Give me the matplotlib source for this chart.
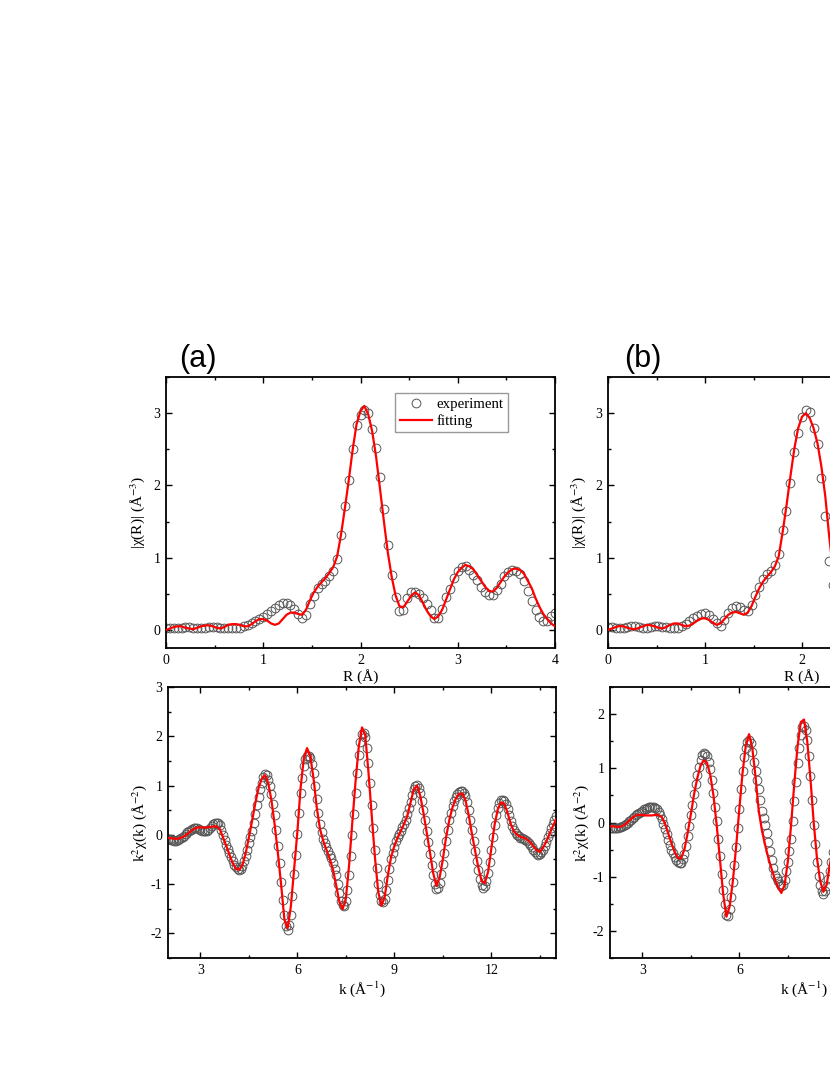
# EXAFS fits: |chi(R)| and k^2 chi(k), experiment vs fitting, panels (a) and (b)

import numpy as np
import matplotlib.pyplot as plt
from matplotlib.ticker import MultipleLocator, FuncFormatter

plt.rcParams['font.family'] = ['Liberation Serif', 'DejaVu Serif']
plt.rcParams['mathtext.fontset'] = 'stix'
plt.rcParams['axes.unicode_minus'] = False

# R-space grids (Angstrom)
r_a = np.round(np.arange(0, 4.001, 0.04), 2)
r_b = np.round(np.arange(0, 2.361, 0.04), 2)

# |chi(R)| panel (a)
chir_a_fit = [
    0.00, 0.02, 0.04, 0.05, 0.05, 0.03, 0.02, 0.01, 0.03, 0.05,
    0.06, 0.065, 0.05, 0.03, 0.02, 0.04, 0.07, 0.08, 0.08, 0.07,
    0.05, 0.05, 0.08, 0.12, 0.15, 0.15, 0.13, 0.09, 0.07, 0.09,
    0.15, 0.21, 0.24, 0.24, 0.22, 0.21, 0.28, 0.41, 0.52, 0.60,
    0.66, 0.72, 0.79, 0.87, 1.02, 1.32, 1.69, 2.08, 2.50, 2.85,
    3.03, 3.10, 2.98, 2.75, 2.40, 1.96, 1.51, 1.08, 0.74, 0.48,
    0.33, 0.31, 0.39, 0.47, 0.52, 0.48, 0.38, 0.27, 0.19, 0.15,
    0.19, 0.28, 0.42, 0.56, 0.70, 0.80, 0.86, 0.90, 0.88, 0.84,
    0.76, 0.68, 0.60, 0.54, 0.53, 0.58, 0.66, 0.74, 0.80, 0.84,
    0.85, 0.83, 0.78, 0.68, 0.58, 0.44, 0.32, 0.22, 0.15, 0.09,
    0.05]
chir_a_exp = [
    0.03, 0.03, 0.02, 0.02, 0.03, 0.04, 0.04, 0.03, 0.02, 0.02,
    0.03, 0.04, 0.04, 0.04, 0.03, 0.03, 0.03, 0.02, 0.02, 0.03,
    0.05, 0.07, 0.09, 0.12, 0.15, 0.18, 0.22, 0.26, 0.31, 0.34,
    0.37, 0.37, 0.34, 0.29, 0.22, 0.16, 0.20, 0.36, 0.47, 0.58,
    0.64, 0.68, 0.74, 0.82, 0.98, 1.31, 1.71, 2.08, 2.50, 2.83,
    2.97, 3.04, 3.00, 2.78, 2.52, 2.12, 1.68, 1.18, 0.76, 0.45,
    0.26, 0.27, 0.44, 0.52, 0.53, 0.50, 0.44, 0.36, 0.27, 0.17,
    0.17, 0.29, 0.45, 0.57, 0.72, 0.82, 0.87, 0.88, 0.83, 0.76,
    0.69, 0.60, 0.53, 0.48, 0.48, 0.55, 0.64, 0.74, 0.80, 0.83,
    0.82, 0.78, 0.68, 0.54, 0.40, 0.28, 0.18, 0.12, 0.13, 0.19,
    0.23]

# |chi(R)| panel (b)
chir_b_fit = [
    0.00, 0.02, 0.04, 0.055, 0.05, 0.03, 0.015, 0.01, 0.03, 0.05,
    0.07, 0.065, 0.05, 0.03, 0.02, 0.04, 0.07, 0.09, 0.09, 0.07,
    0.05, 0.06, 0.09, 0.13, 0.16, 0.16, 0.14, 0.10, 0.07, 0.09,
    0.15, 0.21, 0.24, 0.25, 0.23, 0.21, 0.24, 0.33, 0.46, 0.58,
    0.67, 0.74, 0.80, 0.88, 1.02, 1.35, 1.72, 2.12, 2.50, 2.79,
    2.95, 3.00, 2.93, 2.79, 2.58, 2.26, 1.85, 1.30, 0.82, 0.50]
chir_b_exp = [
    0.04, 0.04, 0.03, 0.03, 0.03, 0.04, 0.05, 0.05, 0.04, 0.03,
    0.03, 0.04, 0.05, 0.05, 0.04, 0.04, 0.03, 0.02, 0.03, 0.05,
    0.08, 0.12, 0.16, 0.19, 0.22, 0.23, 0.20, 0.15, 0.09, 0.06,
    0.14, 0.24, 0.30, 0.33, 0.32, 0.28, 0.26, 0.35, 0.49, 0.60,
    0.71, 0.77, 0.82, 0.90, 1.05, 1.38, 1.64, 2.04, 2.46, 2.72,
    2.94, 3.04, 3.02, 2.80, 2.57, 2.10, 1.58, 0.95, 0.62, 0.38]

# k-space grids (1/Angstrom): fits every 0.1, data every 0.05
k_a_fit = np.round(np.arange(2, 14.001, 0.1), 2)
k_b_fit = np.round(np.arange(2, 9.001, 0.1), 2)
k_a_exp = np.round(np.arange(2, 14.001, 0.05), 2)
k_b_exp = np.round(np.arange(2, 9.001, 0.05), 2)

# k^2 chi(k) panel (a)
chik_a_fit = [
    -0.06, -0.07, -0.08, -0.08, -0.06, -0.03, 0.02, 0.07, 0.12, 0.15,
    0.15, 0.15, 0.15, 0.16, 0.17, 0.17, 0.12, -0.05, -0.22, -0.40,
    -0.57, -0.69, -0.71, -0.62, -0.38, -0.06, 0.28, 0.64, 0.95, 1.14,
    1.21, 1.05, 0.70, 0.20, -0.38, -1.02, -1.72, -1.90, -1.45, -0.70,
    0.05, 0.95, 1.55, 1.76, 1.60, 1.15, 0.56, 0.12, -0.12, -0.30,
    -0.48, -0.70, -1.02, -1.36, -1.51, -1.30, -0.62, 0.25, 1.08, 1.79,
    2.18, 2.02, 1.27, 0.40, -0.45, -1.15, -1.44, -1.27, -0.82, -0.45,
    -0.23, -0.06, 0.08, 0.22, 0.38, 0.65, 0.92, 1.00, 0.80, 0.45,
    0.05, -0.35, -0.77, -1.04, -0.87, -0.50, -0.05, 0.30, 0.56, 0.73,
    0.83, 0.84, 0.70, 0.40, 0.02, -0.33, -0.67, -0.94, -0.98, -0.75,
    -0.28, 0.20, 0.52, 0.66, 0.63, 0.45, 0.22, 0.07, 0.00, -0.04,
    -0.06, -0.09, -0.15, -0.23, -0.31, -0.35, -0.26, -0.14, 0.02, 0.17,
    0.31]
chik_a_data = [
    -0.08, -0.09, -0.10, -0.11, -0.12, -0.12, -0.11, -0.09, -0.07, -0.05,
    -0.02, 0.01, 0.05, 0.08, 0.10, 0.12, 0.14, 0.14, 0.13, 0.12,
    0.10, 0.08, 0.07, 0.07, 0.08, 0.10, 0.13, 0.17, 0.21, 0.23,
    0.24, 0.23, 0.19, 0.10, 0.00, -0.11, -0.21, -0.29, -0.37, -0.46,
    -0.54, -0.61, -0.66, -0.70, -0.72, -0.70, -0.64, -0.54, -0.42, -0.30,
    -0.17, -0.05, 0.08, 0.25, 0.43, 0.60, 0.76, 0.92, 1.06, 1.17,
    1.23, 1.21, 1.12, 0.99, 0.83, 0.63, 0.40, 0.10, -0.22, -0.58,
    -0.95, -1.32, -1.62, -1.86, -1.93, -1.84, -1.62, -1.25, -0.80, -0.40,
    0.02, 0.45, 0.85, 1.15, 1.40, 1.54, 1.60, 1.60, 1.55, 1.43,
    1.25, 1.00, 0.72, 0.45, 0.22, 0.05, -0.08, -0.16, -0.24, -0.32,
    -0.40, -0.48, -0.58, -0.69, -0.82, -1.00, -1.18, -1.34, -1.43, -1.45,
    -1.35, -1.12, -0.82, -0.42, 0.00, 0.42, 0.85, 1.26, 1.62, 1.88,
    2.04, 2.06, 1.98, 1.76, 1.45, 1.05, 0.60, 0.14, -0.30, -0.68,
    -1.00, -1.22, -1.35, -1.37, -1.30, -1.13, -0.92, -0.70, -0.50, -0.36,
    -0.24, -0.13, -0.04, 0.02, 0.08, 0.15, 0.22, 0.31, 0.42, 0.54,
    0.66, 0.80, 0.92, 1.00, 1.02, 0.96, 0.85, 0.69, 0.50, 0.30,
    0.08, -0.15, -0.38, -0.61, -0.82, -1.00, -1.10, -1.08, -0.98, -0.80,
    -0.60, -0.36, -0.12, 0.10, 0.30, 0.45, 0.58, 0.68, 0.76, 0.82,
    0.86, 0.88, 0.88, 0.84, 0.78, 0.66, 0.50, 0.31, 0.10, -0.12,
    -0.33, -0.53, -0.72, -0.89, -1.02, -1.07, -1.04, -0.93, -0.78, -0.56,
    -0.30, -0.05, 0.20, 0.40, 0.55, 0.65, 0.70, 0.71, 0.69, 0.62,
    0.52, 0.40, 0.28, 0.18, 0.10, 0.04, 0.00, -0.03, -0.06, -0.07,
    -0.08, -0.10, -0.12, -0.16, -0.20, -0.25, -0.30, -0.35, -0.38, -0.40,
    -0.39, -0.35, -0.30, -0.22, -0.14, -0.05, 0.04, 0.13, 0.22, 0.30,
    0.38]

# k^2 chi(k) panel (b)
chik_b_fit = [
    -0.07, -0.07, -0.08, -0.08, -0.06, -0.02, 0.04, 0.09, 0.13, 0.14,
    0.14, 0.13, 0.13, 0.13, 0.14, 0.14, 0.10, -0.02, -0.20, -0.38,
    -0.55, -0.66, -0.66, -0.50, -0.20, 0.15, 0.52, 0.82, 1.05, 1.15,
    1.10, 0.88, 0.50, -0.05, -0.68, -1.32, -1.74, -1.55, -1.08, -0.45,
    0.25, 0.92, 1.42, 1.63, 1.38, 0.85, 0.22, -0.15, -0.42, -0.66,
    -0.86, -1.05, -1.20, -1.30, -1.15, -0.72, -0.05, 0.72, 1.40, 1.85,
    1.90, 1.50, 0.80, 0.00, -0.65, -1.08, -1.28, -1.15, -0.78, -0.42,
    -0.18]
chik_b_data = [
    -0.10, -0.10, -0.11, -0.11, -0.11, -0.10, -0.09, -0.08, -0.06, -0.04,
    -0.02, 0.00, 0.03, 0.05, 0.08, 0.10, 0.13, 0.15, 0.18, 0.20,
    0.22, 0.24, 0.25, 0.27, 0.28, 0.29, 0.29, 0.29, 0.27, 0.24,
    0.20, 0.14, 0.06, -0.03, -0.12, -0.22, -0.32, -0.41, -0.50, -0.57,
    -0.64, -0.69, -0.72, -0.74, -0.74, -0.68, -0.58, -0.43, -0.25, -0.06,
    0.14, 0.33, 0.52, 0.71, 0.88, 1.03, 1.15, 1.24, 1.28, 1.27,
    1.22, 1.12, 0.98, 0.78, 0.55, 0.29, 0.02, -0.30, -0.62, -0.95,
    -1.25, -1.50, -1.70, -1.72, -1.60, -1.38, -1.10, -0.78, -0.45, -0.10,
    0.25, 0.62, 0.95, 1.20, 1.38, 1.48, 1.52, 1.46, 1.30, 1.12,
    0.95, 0.78, 0.62, 0.42, 0.22, 0.08, -0.05, -0.20, -0.36, -0.53,
    -0.70, -0.84, -0.96, -1.03, -1.08, -1.14, -1.18, -1.15, -1.06, -0.90,
    -0.72, -0.52, -0.30, 0.03, 0.40, 0.75, 1.10, 1.38, 1.62, 1.76,
    1.78, 1.70, 1.52, 1.22, 0.85, 0.42, -0.05, -0.40, -0.72, -0.98,
    -1.15, -1.26, -1.31, -1.27, -1.18, -1.05, -0.90, -0.72, -0.55, -0.40,
    -0.28]

W, H = 830, 1075
fig = plt.figure(figsize=(W / 100, H / 100), dpi=100)


def px_axes(left, top, right, bottom):
    return fig.add_axes([left / W, 1 - bottom / H, (right - left) / W, (bottom - top) / H])


def style(ax, xmaj, xmin, ymaj, ymin, xvis=None):
    ax.xaxis.set_major_locator(MultipleLocator(xmaj))
    ax.xaxis.set_minor_locator(MultipleLocator(xmin))
    ax.yaxis.set_major_locator(MultipleLocator(ymaj))
    ax.yaxis.set_minor_locator(MultipleLocator(ymin))
    if xvis is not None:
        # labels past the right edge of the page are not shown
        ax.xaxis.set_major_formatter(FuncFormatter(
            lambda v, p: '' if v > xvis else '%g' % v))
    ax.tick_params(which='both', direction='in', top=True, right=True,
                   width=1.0, labelsize=10, pad=4)
    ax.tick_params(which='major', length=4.5)
    ax.tick_params(which='minor', length=2.5)
    for s in ax.spines.values():
        s.set_linewidth(1.3)


def draw(ax, xe, exp, xf, fit):
    ax.plot(xe, exp, 'o', mfc='none', mec='#555555', ms=6.3, mew=0.7,
            label='experiment', zorder=2)
    ax.plot(xf, fit, color='red', lw=1.6, label='fitting', zorder=3)


r_label = 'R (Å)'
chir_label = r'|χ(R)| (Å$^{-3}$)'
k_label = r'k (Å$^{-1}$)'
chik_label = r'k$^2$χ(k) (Å$^{-2}$)'

# panel (a)
ax1 = px_axes(166, 377, 555, 648)
draw(ax1, r_a, chir_a_exp, r_a, chir_a_fit)
ax1.set_xlim(0, 4)
ax1.set_ylim(-0.25, 3.5)
style(ax1, 1, 0.5, 1, 0.5)
ax1.set_xlabel(r_label, fontsize=11, labelpad=2)
ax1.set_ylabel(chir_label, fontsize=11, labelpad=5)
ax1.legend(loc='upper left', bbox_to_anchor=(0.589, 0.94), fancybox=False,
           edgecolor='#999999', framealpha=1, fontsize=10.7, borderpad=0.3,
           handlelength=2.2, handletextpad=0.3, labelspacing=0.2,
           borderaxespad=0)

ax2 = px_axes(168, 687, 556, 958)
draw(ax2, k_a_exp, chik_a_data, k_a_fit, chik_a_fit)
ax2.set_xlim(2, 14)
ax2.set_ylim(-2.5, 3)
style(ax2, 3, 1.5, 1, 0.5)
ax2.set_xlabel(k_label, fontsize=11, labelpad=2)
ax2.set_ylabel(chik_label, fontsize=11, labelpad=1)

# panel (b), running off the right edge
ax3 = px_axes(608, 377, 996, 648)
draw(ax3, r_b, chir_b_exp, r_b, chir_b_fit)
ax3.set_xlim(0, 4)
ax3.set_ylim(-0.25, 3.5)
style(ax3, 1, 0.5, 1, 0.5, xvis=2.2)
ax3.set_xlabel(r_label, fontsize=11, labelpad=2)
ax3.set_ylabel(chir_label, fontsize=11, labelpad=5)

ax4 = px_axes(610, 687, 998, 958)
draw(ax4, k_b_exp, chik_b_data, k_b_fit, chik_b_fit)
ax4.set_xlim(2, 14)
ax4.set_ylim(-2.5, 2.5)
style(ax4, 3, 1.5, 1, 0.5, xvis=8.5)
ax4.set_xlabel(k_label, fontsize=11, labelpad=2)
ax4.set_ylabel(chik_label, fontsize=11, labelpad=1)

fig.text(198 / W, 1 - 359 / H, '(a)', fontsize=22, family='Liberation Sans',
         ha='center', va='center')
fig.text(643 / W, 1 - 359 / H, '(b)', fontsize=22, family='Liberation Sans',
         ha='center', va='center')

fig.savefig('out.png', dpi=100)
